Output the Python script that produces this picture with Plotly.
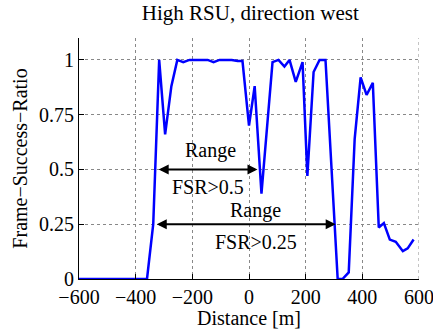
import plotly.graph_objects as go

distance = [-600, -360, -338, -317, -296, -274, -253, -232, -210, -189, -168, -146,
            -125, -104, -82, -61, -40, -23, 0, 20, 44, 83, 104, 125, 143, 165, 189,
            206, 228, 249, 270, 313, 330, 352, 373, 394, 415, 437, 458, 476, 497,
            518, 543, 560, 581]
fsr = [0, 0, 0.25, 1.0, 0.66, 0.88, 1.0, 0.99, 1.0, 1.0, 1.0, 1.0,
       0.99, 1.0, 1.0, 1.0, 0.995, 0.995, 0.70, 0.88, 0.39, 0.99, 1.0, 0.97, 1.0, 0.90, 0.99,
       0.47, 0.945, 1.0, 1.0, 0, 0, 0.03, 0.64, 0.92, 0.84, 0.895, 0.235, 0.255, 0.18,
       0.17, 0.127, 0.14, 0.18]

x_ticks = [-600, -400, -200, 0, 200, 400, 600]
y_ticks = [0, 0.25, 0.5, 0.75, 1]
y_tick_labels = ["0", "0.25", "0.5", "0.75", "1"]

range_05 = (-324, 30, 0.5)
range_025 = (-331, 306, 0.25)

FONT = "Liberation Serif, Times New Roman, serif"
GRID = "#888"

fig = go.Figure()
fig.add_trace(go.Scatter(x=distance, y=fsr, mode="lines",
                         line=dict(color="#0000ff", width=2.5), showlegend=False,
                         hoverinfo="skip"))

# right-edge grid line (plotly omits grid lines on the range boundary)
fig.add_shape(type="line", xref="x", yref="paper", x0=x_ticks[-1], x1=x_ticks[-1],
              y0=0, y1=1, line=dict(color=GRID, width=1, dash="dot"), layer="below")

for x0, x1, yv in [range_05, range_025]:
    fig.add_annotation(x=x1, y=yv, ax=x0, ay=yv, xref="x", yref="y", axref="x", ayref="y",
                       text="", showarrow=True, arrowhead=2, arrowside="end+start",
                       arrowsize=1, arrowwidth=2, arrowcolor="black")

labels = [(-136, 0.586, "Range"), (-146, 0.418, "FSR>0.5"),
          (23, 0.314, "Range"), (23, 0.168, "FSR>0.25")]
for lx, ly, lt in labels:
    fig.add_annotation(x=lx, y=ly, xref="x", yref="y", text=lt, showarrow=False,
                       font=dict(family=FONT, size=20, color="black"))

axis_common = dict(showline=True, linecolor="black", linewidth=1, ticks="inside",
                   ticklen=5, tickcolor="black", showgrid=True, gridcolor=GRID,
                   griddash="dot", gridwidth=1, zeroline=False, mirror=False,
                   automargin=False, ticklabeloverflow="allow",
                   tickfont=dict(family=FONT, size=20, color="black"))

fig.update_layout(
    width=433, height=329,
    margin=dict(l=79, r=14, t=38, b=50),
    paper_bgcolor="white", plot_bgcolor="white",
    font=dict(family=FONT, size=20, color="black"),
    hovermode=False,
    title=dict(text="High RSU, direction west", x=0.578, xanchor="center",
               y=1 - 13 / 329, yanchor="middle", yref="container",
               font=dict(family=FONT, size=21, color="black")),
    xaxis=dict(range=[-600, 600], tickvals=x_ticks, **axis_common,
               title=dict(text="Distance [m]", standoff=0,
                          font=dict(family=FONT, size=20, color="black"))),
    yaxis=dict(range=[0, 1.1], tickvals=y_ticks, ticktext=y_tick_labels, **axis_common,
               title=dict(text="Frame−Success−Ratio", standoff=6,
                          font=dict(family=FONT, size=20, color="black"))),
)

fig.write_html("out.html", config={"displayModeBar": False},
               post_script="document.body.style.margin='0';")
